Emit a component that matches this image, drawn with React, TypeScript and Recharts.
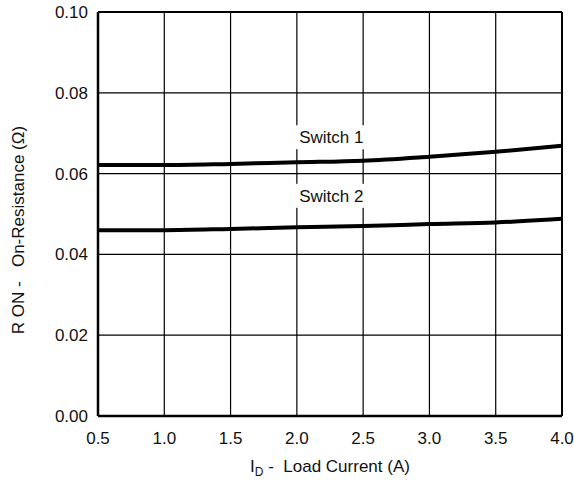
import React from 'react'
import {
  LineChart, Line, XAxis, YAxis, CartesianGrid, ReferenceLine, ReferenceDot,
} from 'recharts'

const CURRENT = [0.5, 1.0, 1.5, 2.0, 2.5, 3.0, 3.5, 4.0]
const SWITCH1 = [0.0621, 0.0621, 0.0624, 0.0628, 0.0632, 0.0642, 0.0654, 0.0669]
const SWITCH2 = [0.0460, 0.0460, 0.0463, 0.0467, 0.0470, 0.0475, 0.0479, 0.0488]
const X_TICKS = [0.5, 1.0, 1.5, 2.0, 2.5, 3.0, 3.5, 4.0]
const Y_TICKS = [0, 0.02, 0.04, 0.06, 0.08, 0.1]

const data = CURRENT.map((x, i) => ({ x, s1: SWITCH1[i], s2: SWITCH2[i] }))

const FONT = '"Liberation Sans", Arial, sans-serif'
const FS = 17

const XTick = (props: any) => {
  const { x, y, payload } = props
  return (
    <text x={x} y={y + 28} textAnchor="middle" fontSize={FS} fontFamily={FONT} fill="#111">
      {Number(payload.value).toFixed(1)}
    </text>
  )
}

const YTick = (props: any) => {
  const { x, y, payload } = props
  return (
    <text x={x - 10} y={y + 6} textAnchor="end" fontSize={FS} fontFamily={FONT} fill="#111">
      {Number(payload.value).toFixed(2)}
    </text>
  )
}

function boxLabel(text: string) {
  return (props: any) => {
    const { viewBox } = props
    const cx = viewBox.x + (viewBox.width || 0) / 2
    const cy = viewBox.y + (viewBox.height || 0) / 2
    const w = 78
    return (
      <g>
        <rect x={cx - w / 2} y={cy - 12} width={w} height={24} fill="#fff" />
        <text x={cx} y={cy + 6} textAnchor="middle" fontSize={FS} fontFamily={FONT} fill="#111">{text}</text>
      </g>
    )
  }
}

const XLabel = (props: any) => {
  const { viewBox } = props
  const cx = viewBox.x + viewBox.width / 2
  return (
    <text x={cx} y={viewBox.y + 56} textAnchor="middle" fontSize={FS} fontFamily={FONT} fill="#111"
      style={{ whiteSpace: 'pre' }}>
      I<tspan fontSize={12} dy={4}>D</tspan><tspan dy={-4}>{' -  Load Current (A)'}</tspan>
    </text>
  )
}

const YLabel = () => (
  <text x={18} y={230} transform="rotate(-90, 18, 230)" textAnchor="middle" dominantBaseline="central"
    fontSize={FS} fontFamily={FONT} fill="#111" style={{ whiteSpace: 'pre' }}>
    {'R ON -   On-Resistance (\u03A9)'}
  </text>
)

export default function App() {
  return (
    <div style={{ position: 'absolute', left: 0, top: 0, background: '#fff' }}>
      <LineChart width={574} height={481} data={data} margin={{ top: 12, right: 12, left: 0, bottom: 0 }}>
        <CartesianGrid stroke="#000" strokeWidth={1.2} horizontalValues={Y_TICKS} verticalValues={X_TICKS} />
        <XAxis
          dataKey="x" type="number" domain={[0.5, 4]} ticks={X_TICKS} height={65}
          tick={<XTick />} tickSize={0} tickMargin={0}
          axisLine={{ stroke: '#000', strokeWidth: 2.5 }} tickLine={false} label={<XLabel />}
        />
        <YAxis
          type="number" domain={[0, 0.1]} ticks={Y_TICKS} width={98}
          tick={<YTick />} tickSize={0} tickMargin={0}
          axisLine={{ stroke: '#000', strokeWidth: 2.5 }} tickLine={false} label={<YLabel />}
        />
        <ReferenceLine y={0.1} stroke="#000" strokeWidth={2} />
        <ReferenceLine x={4} stroke="#000" strokeWidth={2} />
        <Line dataKey="s1" type="monotone" stroke="#000" strokeWidth={4} dot={false} isAnimationActive={false} />
        <Line dataKey="s2" type="monotone" stroke="#000" strokeWidth={4} dot={false} isAnimationActive={false} />
        <ReferenceDot x={2.26} y={0.069} r={0} fill="none" stroke="none" label={boxLabel('Switch 1')} />
        <ReferenceDot x={2.26} y={0.0545} r={0} fill="none" stroke="none" label={boxLabel('Switch 2')} />
      </LineChart>
    </div>
  )
}
